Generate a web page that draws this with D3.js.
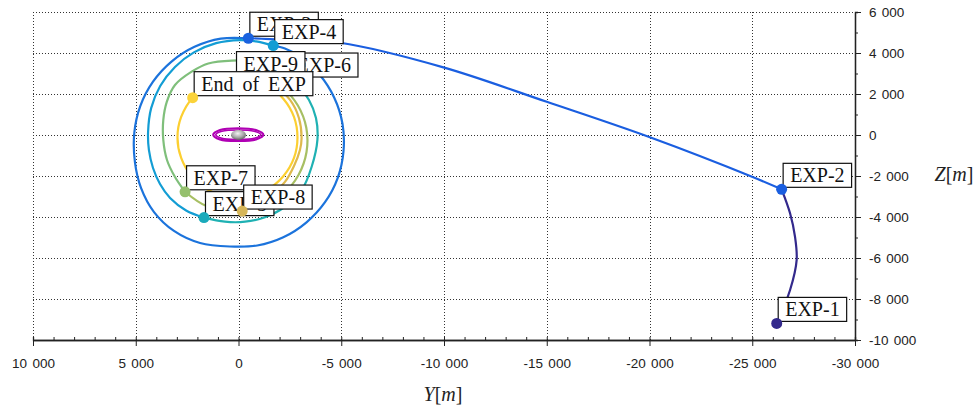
<!DOCTYPE html>
<html><head><meta charset="utf-8">
<script src="https://cdn.jsdelivr.net/npm/d3@7"></script>
<style>
html,body{margin:0;padding:0;background:#fff;}
svg{display:block;}
</style></head><body>
<svg id="chart" width="978" height="409"></svg>
<script>
// ---------- data ----------
const xTicks = [10000, 5000, 0, -5000, -10000, -15000, -20000, -25000, -30000];
const xTickLabels = ["10 000", "5 000", "0", "-5 000", "-10 000", "-15 000", "-20 000", "-25 000", "-30 000"];
const yTicks = [6000, 4000, 2000, 0, -2000, -4000, -6000, -8000, -10000];
const yTickLabels = ["6 000", "4 000", "2 000", "0", "-2 000", "-4 000", "-6 000", "-8 000", "-10 000"];

// trajectory segments [Y, Z] in metres
const seg1 = [[-26190,-9190],[-26840,-7560],[-27160,-6100],[-27080,-4960],[-26840,-3820],[-26430,-2650]];
const seg2 = [[-26430,-2650],[-25050,-2060],[-20020,-110],[-15000,1620],[-9970,3300],[-4940,4500],[-2990,4610],[-1530,4680],[-480,4720]];
const seg3 = [[-480,4720],[860,4700],[2140,4300],[3260,3580],[4160,2600],[4780,1410],[5070,110],[5040,-1320],[4740,-2590],[4110,-3760],[3140,-4680],[1870,-5270],[420,-5440],[-910,-5390],[-2180,-4990],[-3310,-4260],[-4210,-3280],[-4830,-2090],[-5110,-790],[-5060,550],[-4660,1820],[-3940,2950],[-2950,3850],[-2260,4220],[-1690,4360]];
const seg4 = [[-1690,4360],[-850,4570],[-70,4630],[1090,4480],[2170,4030],[3090,3320],[3810,2390],[4250,1310],[4400,150],[4360,-730],[4160,-1610],[3820,-2390],[3330,-3070],[2550,-3680],[1680,-4030]];
const seg5 = [[1680,-4030],[660,-4230],[-320,-4230],[-1290,-4010],[-2260,-3500],[-3080,-2680],[-3560,-1550],[-3840,-240],[-3770,830],[-3430,1710],[-2940,2340],[-2410,2730]];
const seg6 = [[-2410,2730],[-1630,3320],[-660,3590],[320,3630],[1470,3490],[2280,3090],[3090,2440],[3490,1620],[3660,730],[3660,-240],[3480,-1220],[3090,-2050],[2600,-2770]];
const seg7 = [[2600,-2770],[1530,-3480],[-180,-3710],[-1150,-3480],[-2180,-2870],[-2920,-1950],[-3310,-830],[-3300,350],[-2890,1440],[-2130,2330],[-1540,2710]];
const seg8 = [[-180,-3710],[-950,-3370],[-1630,-2930],[-2260,-2290],[-2700,-1510],[-2990,-730],[-3070,-150],[-2940,830],[-2510,1710],[-1820,2340],[-900,2710],[170,2800]];
const seg9 = [[170,2800],[1280,2530],[2230,1820],[2790,880],[2970,-120],[2790,-1120],[2290,-2000],[1510,-2660],[550,-3000],[-460,-3000],[-1410,-2660],[-2190,-2000],[-2700,-1120],[-2870,-120],[-2700,880],[-2190,1760],[-1410,2410],[-710,2710]];
const segments = [seg1, seg2, seg3, seg4, seg5, seg6, seg7, seg8, seg9];
const segmentColors = ["#33298c", "#1a5ee0", "#1b73dc", "#139dd4", "#1fb1b3", "#7fbf7b", "#a7bf63", "#dfb94c", "#fccf31"];

// labelled points
const pointNames = ["EXP-1", "EXP-2", "EXP-3", "EXP-4", "EXP-5", "EXP-6", "EXP-7", "EXP-8", "EXP-9", "End of EXP"];
const pointY = [-26190, -26430, -480, -1690, 1680, -2410, 2600, -180, 170, 2230];
const pointZ = [-9190, -2650, 4720, 4360, -4030, 2730, -2770, -3710, 2800, 1820];
const pointColors = ["#33298c", "#1a5ee0", "#1a62df", "#139dd4", "#1aaabb", "#7fbf7b", "#95c06d", "#d6b659", "#f2c63c", "#fbd33a"];

// small orbit around the central body
const orbitY = [1230, 900, 20, -850, -1210, -850, 20, 900];
const orbitZ = [10, 240, 330, 240, 10, -220, -290, -220];

// ---------- chart ----------
const svg = d3.select("#chart");
const x = d3.scaleLinear().domain([10000, -30000]).range([33, 855]);
const y = d3.scaleLinear().domain([6000, -10000]).range([12, 340]);

// grid
const grid = svg.append("g").attr("stroke", "#333").attr("stroke-width", 1).attr("stroke-dasharray", "1,2");
grid.selectAll("line.v").data(xTicks.slice(0, -1)).join("line")
  .attr("x1", d => Math.round(x(d)) + 0.5).attr("x2", d => Math.round(x(d)) + 0.5)
  .attr("y1", y(6000)).attr("y2", y(-10000));
grid.selectAll("line.h").data(yTicks.slice(0, -1)).join("line")
  .attr("y1", d => Math.round(y(d)) + 0.5).attr("y2", d => Math.round(y(d)) + 0.5)
  .attr("x1", x(10000)).attr("x2", x(-30000));

// axes
const fmtX = d => xTickLabels[xTicks.indexOf(d)];
const fmtY = d => yTickLabels[yTicks.indexOf(d)];
const xMinor = d3.range(10000, -30001, -1000);
const yMinor = d3.range(6000, -10001, -1000);

const gx = svg.append("g").attr("transform", `translate(0,${y(-10000)})`);
gx.call(d3.axisBottom(x).tickValues(xMinor).tickSize(-3).tickFormat(""));
gx.append("g").call(d3.axisBottom(x).tickValues(xTicks).tickSizeInner(6).tickSizeOuter(0).tickPadding(12).tickFormat(fmtX));
const gy = svg.append("g").attr("transform", `translate(${x(-30000)},0)`);
gy.call(d3.axisRight(y).tickValues(yMinor).tickSize(3).tickFormat(""));
gy.append("g").call(d3.axisRight(y).tickValues(yTicks).tickSizeInner(6).tickSizeOuter(0).tickPadding(8).tickFormat(fmtY));
svg.selectAll(".domain").attr("stroke", "#222").attr("stroke-width", 1.3);
svg.selectAll(".tick line").attr("stroke", "#222");
svg.selectAll(".tick text").attr("font-family", "'Liberation Sans', Arial, sans-serif")
  .attr("font-size", "13.5px").attr("fill", "#222").style("word-spacing", "1.5px");

// axis titles
const xt = svg.append("text").attr("x", 443).attr("y", 401).attr("text-anchor", "middle")
  .attr("font-family", "'Liberation Serif', serif").attr("font-size", "20px").attr("fill", "#222");
xt.append("tspan").attr("font-style", "italic").text("Y");
xt.append("tspan").text("[");
xt.append("tspan").attr("font-style", "italic").text("m");
xt.append("tspan").text("]");
const yt = svg.append("text").attr("x", 954).attr("y", 181).attr("text-anchor", "middle")
  .attr("font-family", "'Liberation Serif', serif").attr("font-size", "20px").attr("fill", "#222");
yt.append("tspan").attr("font-style", "italic").text("Z");
yt.append("tspan").text("[");
yt.append("tspan").attr("font-style", "italic").text("m");
yt.append("tspan").text("]");

// central body + small orbit
const orbitPts = orbitY.map((v, i) => [v, orbitZ[i]]);
const closedLine = d3.line().x(d => x(d[0])).y(d => y(d[1])).curve(d3.curveCatmullRomClosed);
svg.append("path").attr("d", closedLine(orbitPts)).attr("fill", "none").attr("stroke", "#b000b4").attr("stroke-width", 2.2);
svg.append("path").attr("d", closedLine(orbitPts.map(p => [p[0] * 0.9, p[1] * 0.75])))
  .attr("fill", "none").attr("stroke", "#b000b4").attr("stroke-width", 1.6);
const defs = svg.append("defs");
const rg = defs.append("radialGradient").attr("id", "sph").attr("cx", "45%").attr("cy", "35%").attr("r", "65%");
rg.append("stop").attr("offset", "0%").attr("stop-color", "#f2f2f2");
rg.append("stop").attr("offset", "60%").attr("stop-color", "#a8a8a8");
rg.append("stop").attr("offset", "100%").attr("stop-color", "#606060");
svg.append("ellipse").attr("cx", x(0)).attr("cy", y(0)).attr("rx", 7.5).attr("ry", 5).attr("fill", "url(#sph)");

// trajectory
const line = d3.line().x(d => x(d[0])).y(d => y(d[1])).curve(d3.curveCatmullRom.alpha(0.5));
svg.append("g").selectAll("path").data(segments).join("path")
  .attr("d", d => line(d)).attr("fill", "none")
  .attr("stroke", (d, i) => segmentColors[i]).attr("stroke-width", 2.2)
  .attr("stroke-linejoin", "round").attr("stroke-linecap", "round");

// datatips
const tips = svg.append("g");
pointNames.forEach((name, i) => {
  const px = x(pointY[i]), py = y(pointZ[i]);
  const g = tips.append("g").attr("transform", `translate(${px},${py})`);
  const rect = g.append("rect");
  const t = g.append("text").attr("x", 8.5).attr("y", -7)
    .attr("font-family", "'Liberation Serif', serif").attr("font-size", "20px").attr("fill", "#111")
    .style("word-spacing", "4px").text(name);
  const w = t.node().getComputedTextLength();
  rect.attr("x", 1.5).attr("y", -26).attr("width", w + 14).attr("height", 24)
    .attr("fill", "#fff").attr("stroke", "#111").attr("stroke-width", 1.2);
  g.append("circle").attr("r", 5.5).attr("fill", pointColors[i]);
});
</script>
</body></html>
